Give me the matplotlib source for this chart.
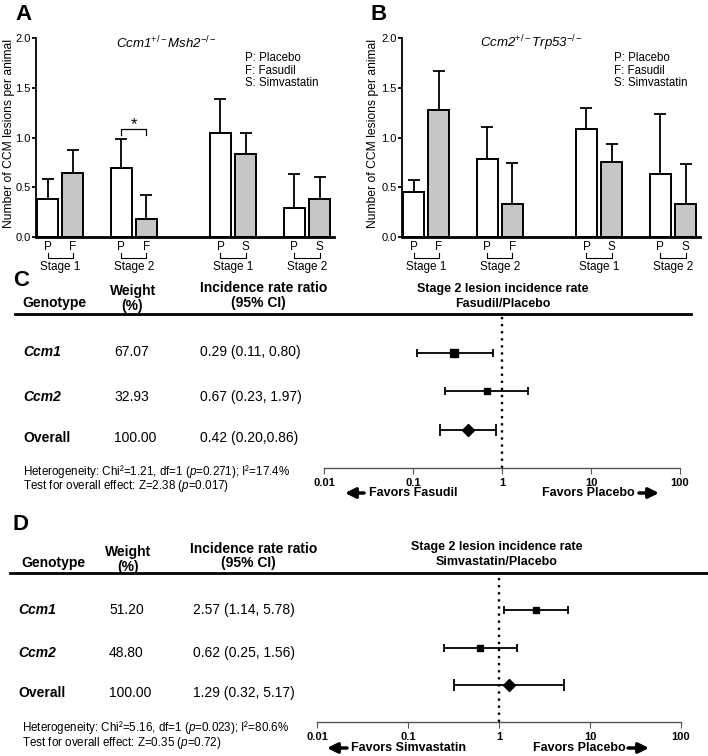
import numpy as np
import matplotlib
matplotlib.use('Agg')
import matplotlib.pyplot as plt
from matplotlib.lines import Line2D

plt.rcParams['font.family'] = ['Liberation Sans', 'DejaVu Sans']
plt.rcParams['mathtext.fontset'] = 'custom'
plt.rcParams['mathtext.rm'] = 'Liberation Sans'
plt.rcParams['mathtext.it'] = 'Liberation Sans:italic'
plt.rcParams['mathtext.bf'] = 'Liberation Sans:bold'

W, H = 708, 756

## Data ###########################
bar_labels = ['P', 'F', 'P', 'F', 'P', 'S', 'P', 'S']
stage_labels = ['Stage 1', 'Stage 2', 'Stage 1', 'Stage 2']
legend_lines = ['P: Placebo', 'F: Fasudil', 'S: Simvastatin']

a_mean = [0.38, 0.64, 0.69, 0.18, 1.05, 0.83, 0.29, 0.38]
a_err = [0.20, 0.23, 0.29, 0.24, 0.34, 0.22, 0.34, 0.22]
b_mean = [0.45, 1.28, 0.78, 0.33, 1.09, 0.75, 0.63, 0.33]
b_err = [0.12, 0.39, 0.33, 0.41, 0.21, 0.18, 0.61, 0.40]

genotypes = ['Ccm1', 'Ccm2', 'Overall']
c_weight = ['67.07', '32.93', '100.00']
c_irr = [0.29, 0.67, 0.42]
c_lo = [0.11, 0.23, 0.20]
c_hi = [0.80, 1.97, 0.86]
c_irr_txt = ['0.29 (0.11, 0.80)', '0.67 (0.23, 1.97)', '0.42 (0.20,0.86)']

d_weight = ['51.20', '48.80', '100.00']
d_irr = [2.57, 0.62, 1.29]
d_lo = [1.14, 0.25, 0.32]
d_hi = [5.78, 1.56, 5.17]
d_irr_txt = ['2.57 (1.14, 5.78)', '0.62 (0.25, 1.56)', '1.29 (0.32, 5.17)']

forest_ticks = [0.01, 0.1, 1, 10, 100]
forest_ticklabels = ['0.01', '0.1', '1', '10', '100']

fig = plt.figure(figsize=(W / 100, H / 100), dpi=100)


def ptext(x, y, s, **kw):
    # text placed in pixel coords (from top left)
    kw.setdefault('va', 'center')
    fig.text(x / W, 1 - y / H, s, **kw)


def hline(x0, x1, y, lw=2):
    fig.add_artist(Line2D([x0 / W, x1 / W], [1 - y / H, 1 - y / H],
                          color='black', lw=lw, transform=fig.transFigure))


def arrow(tail, tip, y):
    fig.add_artist(plt.Annotation('', xy=(tip, H - y), xytext=(tail, H - y),
                                  xycoords='figure pixels',
                                  arrowprops=dict(arrowstyle='-|>,head_width=0.3,head_length=0.6',
                                                  lw=2.5, color='black',
                                                  shrinkA=0, shrinkB=0)))


group_x = [0, 3.51, 8.24, 11.76]


## Bar panels A and B ##############
def bar_panel(left, means, errs, title, title_x, leg_x, ylab_x, star=False):
    ax = fig.add_axes([left / W, 1 - 236.7 / H, 298 / W, 198.4 / H])
    pos = np.array([g + o for g in group_x for o in (-0.6, 0.6)])
    colors = ['white', '#c6c6c6'] * 4
    ax.errorbar(pos, means, yerr=[np.zeros(len(means)), errs], fmt='none',
                ecolor='black', elinewidth=1.3, capsize=4, capthick=1.3, zorder=1)
    ax.bar(pos, means, width=1.0, color=colors, edgecolor='black', linewidth=1.4, zorder=2)
    ax.set_xlim(-1.15, 13.05)
    ax.set_ylim(0, 2)
    ax.set_yticks([0, 0.5, 1.0, 1.5, 2.0])
    ax.set_yticklabels(['0.0', '0.5', '1.0', '1.5', '2.0'])
    ax.set_xticks([])
    for s in ['top', 'right']:
        ax.spines[s].set_visible(False)
    ax.spines['bottom'].set_linewidth(2)
    ax.spines['left'].set_linewidth(1.3)
    ax.tick_params(axis='y', length=3, width=1.3, labelsize=8, pad=0.8)
    tr = ax.get_xaxis_transform()
    for p, lab in zip(pos, bar_labels):
        ax.text(p, -0.052, lab, transform=tr, ha='center', va='center', fontsize=8.5)
    for g, st in zip(group_x, stage_labels):
        ax.plot([g - 0.6, g - 0.6, g + 0.6, g + 0.6], [-0.082, -0.107, -0.107, -0.082],
                transform=tr, clip_on=False, color='black', lw=0.8)
        ax.text(g, -0.151, st, transform=tr, ha='center', va='center', fontsize=8.5)
    if star:
        g = group_x[1]
        ax.plot([g - 0.6, g - 0.6, g + 0.6, g + 0.6], [1.025, 1.086, 1.086, 1.025],
                color='black', lw=0.9)
        ax.text(g, 1.13, '*', ha='center', va='center', fontsize=12)
    ptext(title_x, 43, title, ha='center', fontsize=9.5, style='italic')
    for i, l in enumerate(legend_lines):
        ptext(leg_x, 58 + 12.5 * i, l, fontsize=8.3)
    ptext(ylab_x, 134, 'Number of CCM lesions per animal', rotation=90,
          ha='center', fontsize=8.7)
    return ax


bar_panel(36, a_mean, a_err, 'Ccm1$^{+/-}$Msh2$^{-/-}$', 166, 245, 9, star=True)
bar_panel(402, b_mean, b_err, 'Ccm2$^{+/-}$Trp53$^{-/-}$', 531, 614, 373)

ptext(23, 15, 'A', ha='center', fontsize=16, weight='bold')
ptext(379, 15, 'B', ha='center', fontsize=16, weight='bold')


## Forest panels C and D ##########
def forest(left, right, top, bottom, irr, lo, hi, sq_ms):
    ax = fig.add_axes([left / W, 1 - bottom / H, (right - left) / W, (bottom - top) / H])
    ax.set_xscale('log')
    rows = [1, 2, 3]
    for i in range(3):
        err = [[irr[i] - lo[i]], [hi[i] - irr[i]]]
        if i < 2:
            ax.errorbar(irr[i], rows[i], xerr=err, fmt='s', ms=sq_ms[i], color='black',
                        elinewidth=1.3, capsize=3, capthick=1.3)
        else:
            ax.errorbar(irr[i], rows[i], xerr=err, fmt='D', ms=6.5, color='black',
                        elinewidth=1.3, capsize=4.5, capthick=1.3)
    ax.axvline(1, color='black', ls=(0, (1, 2)), lw=1.7)
    ax.set_xlim(0.01, 100)
    ax.set_ylim(4, 0)
    for s in ['top', 'right', 'left']:
        ax.spines[s].set_visible(False)
    ax.spines['bottom'].set_color('#555555')
    ax.spines['bottom'].set_linewidth(1)
    ax.set_yticks([])
    ax.set_xticks(forest_ticks)
    ax.set_xticklabels(forest_ticklabels, fontsize=8, weight='bold')
    ax.minorticks_off()
    ax.tick_params(axis='x', length=4, color='#555555', pad=3)
    ax.patch.set_alpha(0)
    return ax


def table(gx, wx, ix, row_y, weights, irr_txt, fs=10):
    for y, g, w, t in zip(row_y, genotypes, weights, irr_txt):
        ptext(gx, y, g, fontsize=fs, weight='bold', style='normal' if g == 'Overall' else 'italic')
        ptext(wx, y, w, fontsize=fs)
        ptext(ix, y, t, fontsize=fs)


# C
ptext(21, 280, 'C', ha='center', fontsize=16, weight='bold')
ptext(22, 303, 'Genotype', fontsize=10, weight='bold')
ptext(133, 291, 'Weight', ha='center', fontsize=10, weight='bold')
ptext(132, 306, '(%)', ha='center', fontsize=10, weight='bold')
ptext(264, 288, 'Incidence rate ratio', ha='center', fontsize=10, weight='bold')
ptext(258, 303, '(95% CI)', ha='center', fontsize=10, weight='bold')
ptext(503, 289, 'Stage 2 lesion incidence rate', ha='center', fontsize=9, weight='bold')
ptext(503, 304, 'Fasudil/Placebo', ha='center', fontsize=9, weight='bold')
hline(15, 691, 314)
table(23, 114, 200, [352, 397, 438], c_weight, c_irr_txt)
ptext(23, 471, r'Heterogeneity: Chi²=1.21, df=1 ($p$=0.271); I²=17.4%', fontsize=8.4)
ptext(23, 486, r'Test for overall effect: Z=2.38 ($p$=0.017)', fontsize=8.4)
forest(324, 680, 314, 468, c_irr, c_lo, c_hi, [5.2, 4.4])
arrow(364, 345, 493)
ptext(369, 493, 'Favors Fasudil', fontsize=9, weight='bold')
ptext(635, 493, 'Favors Placebo', ha='right', fontsize=9, weight='bold')
arrow(639, 659, 493)

# D
ptext(21, 524, 'D', ha='center', fontsize=16, weight='bold')
ptext(21, 563, 'Genotype', fontsize=10, weight='bold')
ptext(128, 552, 'Weight', ha='center', fontsize=10, weight='bold')
ptext(128, 567, '(%)', ha='center', fontsize=10, weight='bold')
ptext(254, 549, 'Incidence rate ratio', ha='center', fontsize=10, weight='bold')
ptext(248, 563, '(95% CI)', ha='center', fontsize=10, weight='bold')
ptext(497, 547, 'Stage 2 lesion incidence rate', ha='center', fontsize=9, weight='bold')
ptext(497, 562, 'Simvastatin/Placebo', ha='center', fontsize=9, weight='bold')
hline(10, 708, 573)
table(18, 109, 193, [610, 653, 693], d_weight, d_irr_txt)
ptext(22, 728, r'Heterogeneity: Chi²=5.16, df=1 ($p$=0.023); I²=80.6%', fontsize=8.4)
ptext(22, 743, r'Test for overall effect: Z=0.35 ($p$=0.72)', fontsize=8.4)
forest(317, 681, 573, 722, d_irr, d_lo, d_hi, [4.4, 4.4])
arrow(347, 327, 748)
ptext(466, 748, 'Favors Simvastatin', ha='right', fontsize=9, weight='bold')
ptext(626, 748, 'Favors Placebo', ha='right', fontsize=9, weight='bold')
arrow(628, 649, 748)

fig.savefig('out.png', dpi=100)
